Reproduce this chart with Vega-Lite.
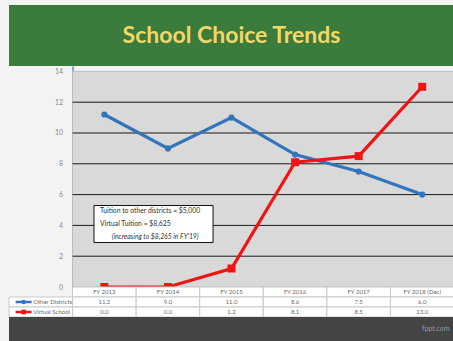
{
  "$schema": "https://vega.github.io/schema/vega-lite/v6.json",
  "background": "#f3f3f3",
  "padding": {"left": 8, "top": 5, "right": 0, "bottom": 0},
  "spacing": 0,
  "bounds": "flush",
  "config": {
    "font": "Lato",
    "view": {"stroke": null},
    "axisY": {
      "values": [0, 2, 4, 6, 8, 10, 12, 14],
      "title": null, "ticks": false, "grid": false, "labelOverlap": false,
      "labelFontSize": 7, "labelColor": "#8a8a8a", "labelPadding": 10,
      "offset": -63.6, "domainColor": "#7aa6da", "domainWidth": 2
    }
  },
  "datasets": {
    "trend": [
      {"year": "FY 2013", "series": "Other Districts", "value": 11.2},
      {"year": "FY 2014", "series": "Other Districts", "value": 9.0},
      {"year": "FY 2015", "series": "Other Districts", "value": 11.0},
      {"year": "FY 2016", "series": "Other Districts", "value": 8.6},
      {"year": "FY 2017", "series": "Other Districts", "value": 7.5},
      {"year": "FY 2018 (Dec)", "series": "Other Districts", "value": 6.0},
      {"year": "FY 2013", "series": "Virtual School", "value": 0.0},
      {"year": "FY 2014", "series": "Virtual School", "value": 0.0},
      {"year": "FY 2015", "series": "Virtual School", "value": 1.2},
      {"year": "FY 2016", "series": "Virtual School", "value": 8.1},
      {"year": "FY 2017", "series": "Virtual School", "value": 8.5},
      {"year": "FY 2018 (Dec)", "series": "Virtual School", "value": 13.0}
    ],
    "grid": [{"v": 2}, {"v": 4}, {"v": 6}, {"v": 8}, {"v": 10}, {"v": 12}],
    "banner": [{"title": "School Choice Trends"}],
    "note": [
      {"line1": "Tuition to other districts = $5,000", "line2": "Virtual Tuition = $8,625", "line3": "(increasing to $8,265 in FY'19)"}
    ],
    "footer": [{"site": "fppt.com"}]
  },
  "vconcat": [
    {
      "width": 445,
      "height": 61,
      "view": {"fill": "#3b7b3b"},
      "data": {"name": "banner"},
      "mark": {"type": "text", "fontSize": 23, "fontWeight": "bold", "color": "#f2d769", "baseline": "middle", "align": "center"},
      "encoding": {"text": {"field": "title"}}
    },
    {
      "width": 445,
      "height": 221,
      "resolve": {"scale": {"x": "independent"}, "axis": {"x": "independent"}},
      "layer": [
        {
          "data": {"values": [{}]},
          "mark": {"type": "rect", "fill": "#d9d9d9", "stroke": "#bdbdbd", "strokeWidth": 1},
          "encoding": {
            "x": {"datum": 1, "type": "quantitative", "scale": {"domain": [0, 7], "nice": false, "zero": false}, "axis": null},
            "x2": {"datum": 7},
            "y": {"datum": 0, "type": "quantitative", "scale": {"domain": [0, 14.35], "nice": false, "zero": false}},
            "y2": {"datum": 14}
          }
        },
        {
          "data": {"name": "grid"},
          "mark": {"type": "rule", "color": "#1a1a1a", "strokeWidth": 1},
          "encoding": {
            "x": {"datum": 1, "type": "quantitative", "scale": {"domain": [0, 7], "nice": false, "zero": false}, "axis": null},
            "x2": {"datum": 7},
            "y": {"field": "v", "type": "quantitative"}
          }
        },
        {
          "data": {"name": "trend"},
          "mark": {"type": "line", "strokeWidth": 3.2},
          "encoding": {
            "x": {"field": "year", "type": "nominal", "axis": null,
              "scale": {"domain": ["label", "FY 2013", "FY 2014", "FY 2015", "FY 2016", "FY 2017", "FY 2018 (Dec)"], "paddingInner": 0, "paddingOuter": 0}},
            "y": {"field": "value", "type": "quantitative"},
            "color": {"field": "series", "type": "nominal", "legend": null,
              "scale": {"domain": ["Other Districts", "Virtual School"], "range": ["#3275bd", "#f01414"]}}
          }
        },
        {
          "data": {"name": "trend"},
          "mark": {"type": "point", "filled": true, "opacity": 1},
          "encoding": {
            "x": {"field": "year", "type": "nominal", "axis": null,
              "scale": {"domain": ["label", "FY 2013", "FY 2014", "FY 2015", "FY 2016", "FY 2017", "FY 2018 (Dec)"], "paddingInner": 0, "paddingOuter": 0}},
            "y": {"field": "value", "type": "quantitative"},
            "color": {"field": "series", "type": "nominal", "legend": null},
            "shape": {"field": "series", "type": "nominal", "legend": null,
              "scale": {"domain": ["Other Districts", "Virtual School"], "range": ["circle", "square"]}},
            "size": {"field": "series", "type": "nominal", "legend": null,
              "scale": {"domain": ["Other Districts", "Virtual School"], "range": [38, 64]}}
          }
        },
        {
          "data": {"values": [{}]},
          "mark": {"type": "rect", "fill": "white", "stroke": "#111111", "strokeWidth": 1},
          "encoding": {
            "x": {"datum": 1.337, "type": "quantitative", "scale": {"domain": [0, 7], "nice": false, "zero": false}, "axis": null},
            "x2": {"datum": 3.21},
            "y": {"datum": 5.29, "type": "quantitative"},
            "y2": {"datum": 2.89}
          }
        },
        {
          "data": {"name": "note"},
          "mark": {"type": "text", "fontSize": 6.8, "align": "left", "baseline": "middle", "color": "#333333"},
          "encoding": {
            "x": {"datum": 1.43, "type": "quantitative", "scale": {"domain": [0, 7], "nice": false, "zero": false}, "axis": null},
            "y": {"datum": 4.92, "type": "quantitative"},
            "text": {"field": "line1"}
          }
        },
        {
          "data": {"name": "note"},
          "mark": {"type": "text", "fontSize": 6.8, "align": "left", "baseline": "middle", "color": "#333333"},
          "encoding": {
            "x": {"datum": 1.43, "type": "quantitative", "scale": {"domain": [0, 7], "nice": false, "zero": false}, "axis": null},
            "y": {"datum": 4.06, "type": "quantitative"},
            "text": {"field": "line2"}
          }
        },
        {
          "data": {"name": "note"},
          "mark": {"type": "text", "fontSize": 6.8, "fontStyle": "italic", "align": "left", "baseline": "middle", "color": "#333333"},
          "encoding": {
            "x": {"datum": 1.615, "type": "quantitative", "scale": {"domain": [0, 7], "nice": false, "zero": false}, "axis": null},
            "y": {"datum": 3.23, "type": "quantitative"},
            "text": {"field": "line3"}
          }
        }
      ]
    },
    {
      "width": 445,
      "height": 30,
      "data": {"name": "trend"},
      "encoding": {
        "x": {"type": "nominal", "scale": {"domain": ["label", "FY 2013", "FY 2014", "FY 2015", "FY 2016", "FY 2017", "FY 2018 (Dec)"], "paddingInner": 0, "paddingOuter": 0}, "axis": null},
        "y": {"type": "nominal", "scale": {"domain": ["header", "Other Districts", "Virtual School"], "paddingInner": 0, "paddingOuter": 0}, "axis": null}
      },
      "layer": [
        {
          "transform": [{"filter": "datum.series === 'Other Districts'"}],
          "mark": {"type": "rect", "fill": "white", "stroke": "#c9c9c9", "strokeWidth": 1},
          "encoding": {"x": {"field": "year", "type": "nominal"}, "y": {"datum": "header", "type": "nominal"}}
        },
        {
          "mark": {"type": "rect", "fill": "white", "stroke": "#c9c9c9", "strokeWidth": 1},
          "encoding": {"x": {"field": "year", "type": "nominal"}, "y": {"field": "series", "type": "nominal"}}
        },
        {
          "transform": [{"filter": "datum.year === 'FY 2013'"}],
          "mark": {"type": "rect", "fill": "white", "stroke": "#c9c9c9", "strokeWidth": 1},
          "encoding": {"x": {"datum": "label", "type": "nominal"}, "y": {"field": "series", "type": "nominal"}}
        },
        {
          "transform": [{"filter": "datum.series === 'Other Districts'"}],
          "mark": {"type": "text", "fontSize": 6, "color": "#6a6a6a", "baseline": "middle"},
          "encoding": {"x": {"field": "year", "type": "nominal"}, "y": {"datum": "header", "type": "nominal"}, "text": {"field": "year"}}
        },
        {
          "mark": {"type": "text", "fontSize": 6, "color": "#6a6a6a", "baseline": "middle"},
          "encoding": {"x": {"field": "year", "type": "nominal"}, "y": {"field": "series", "type": "nominal"}, "text": {"field": "value", "format": ".1f"}}
        },
        {
          "transform": [{"filter": "datum.year === 'FY 2013'"}],
          "mark": {"type": "text", "fontSize": 6, "color": "#6a6a6a", "baseline": "middle", "align": "left"},
          "encoding": {"x": {"datum": "label", "type": "nominal", "bandPosition": 0.38}, "y": {"field": "series", "type": "nominal"}, "text": {"field": "series"}}
        },
        {
          "transform": [{"filter": "datum.year === 'FY 2013'"}],
          "mark": {"type": "point", "shape": "stroke", "size": 256, "strokeWidth": 2.5, "opacity": 1},
          "encoding": {"x": {"datum": "label", "type": "nominal", "bandPosition": 0.23}, "y": {"field": "series", "type": "nominal"},
            "color": {"field": "series", "type": "nominal", "legend": null, "scale": {"domain": ["Other Districts", "Virtual School"], "range": ["#3275bd", "#f01414"]}}}
        },
        {
          "transform": [{"filter": "datum.year === 'FY 2013'"}],
          "mark": {"type": "point", "filled": true, "opacity": 1},
          "encoding": {"x": {"datum": "label", "type": "nominal", "bandPosition": 0.23}, "y": {"field": "series", "type": "nominal"},
            "color": {"field": "series", "type": "nominal", "legend": null},
            "shape": {"field": "series", "type": "nominal", "legend": null, "scale": {"domain": ["Other Districts", "Virtual School"], "range": ["circle", "square"]}},
            "size": {"value": 22}}
        }
      ]
    },
    {
      "width": 445,
      "height": 24,
      "view": {"fill": "#444444"},
      "data": {"name": "footer"},
      "mark": {"type": "text", "fontSize": 7, "color": "#9a9a9a", "align": "right", "baseline": "middle"},
      "encoding": {
        "x": {"datum": 0.99, "type": "quantitative", "scale": {"domain": [0, 1], "nice": false, "zero": false}, "axis": null},
        "text": {"field": "site"}
      }
    }
  ]
}
